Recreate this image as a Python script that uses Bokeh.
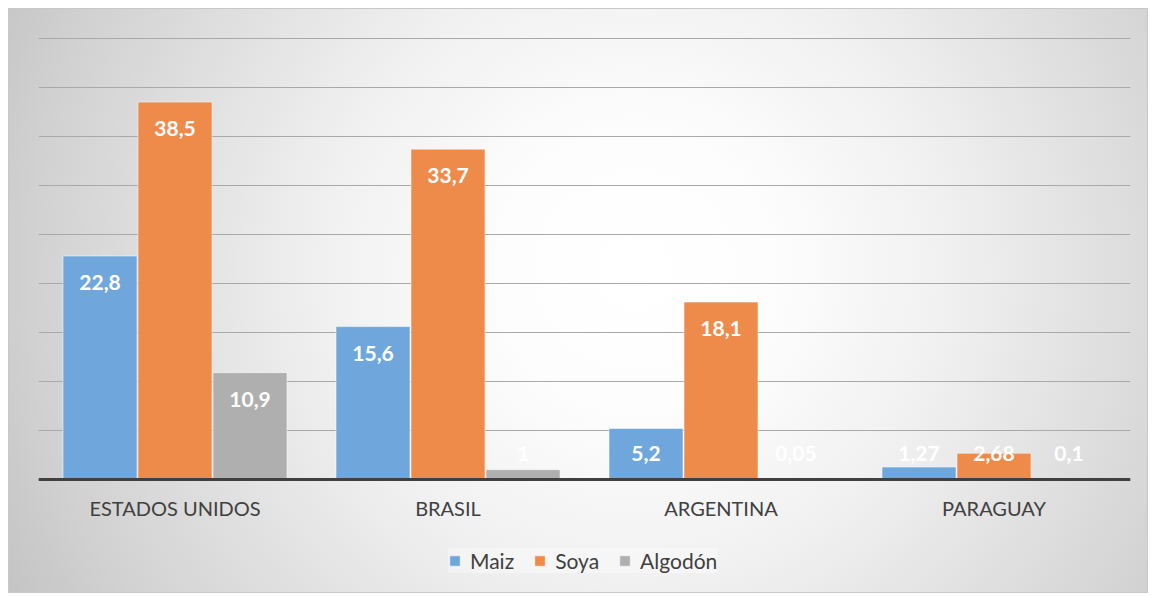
from bokeh.plotting import figure
from bokeh.models import ColumnDataSource, FactorRange, Range1d, Legend, LegendItem, FixedTicker
from bokeh.transform import dodge
from bokeh.core.properties import value
from bokeh.embed import file_html
from bokeh.resources import INLINE

categories = ["ESTADOS UNIDOS", "BRASIL", "ARGENTINA", "PARAGUAY"]
maiz = [22.8, 15.6, 5.2, 1.27]
soya = [38.5, 33.7, 18.1, 2.68]
algodon = [10.9, 1.0, 0.05, 0.1]
series_names = ["Maiz", "Soya", "Algodón"]
series_keys = ["maiz", "soya", "algodon"]
colors = ["#6FA7DC", "#EE8B4B", "#AFAFAF"]
y_ticks = [0, 5, 10, 15, 20, 25, 30, 35, 40, 45]

FONT = "Lato"

def fmt(v):
    return ("%g" % v).replace(".", ",")

data = dict(cat=categories, maiz=maiz, soya=soya, algodon=algodon)
for k in series_keys:
    data[k + "_lab"] = [fmt(v) for v in data[k]]
    data[k + "_ly"] = [max(v - 2.7, 2.65) for v in data[k]]
src = ColumnDataSource(data)

p = figure(
    x_range=FactorRange(*categories), y_range=Range1d(-11.73, 45.5),
    width=1140, height=585, output_backend="svg", toolbar_location=None,
    min_border_left=29, min_border_right=19, min_border_top=24, min_border_bottom=0,
    background_fill_alpha=0, border_fill_alpha=0, outline_line_color=None,
    styles={
        "background": "radial-gradient(circle farthest-corner at 55% 45%, #ffffff 0%, #fdfdfd 20%, #f0f0f0 45%, #d2d2d2 85%, #c4c4c4 100%)",
        "border": "1px solid #c8c8c8",
        "margin": "8px",
    },
)

offsets = [-0.2747, 0.0, 0.2747]
items = []
for key, name, col, off in zip(series_keys, series_names, colors, offsets):
    r = p.vbar(x=dodge("cat", off, range=p.x_range), top=key, width=0.271, source=src,
               fill_color=col, line_color="white", line_alpha=0.5, line_width=1)
    p.text(x=dodge("cat", off, range=p.x_range), y=key + "_ly", text=key + "_lab", source=src,
           text_color="white", text_font=value(FONT), text_font_style="bold",
           text_font_size="21px", text_align="center", text_baseline="middle")
    items.append(LegendItem(label=name, renderers=[r]))

p.yaxis.visible = False
p.ygrid.ticker = FixedTicker(ticks=y_ticks)
p.ygrid.grid_line_color = "#a9a9a9"
p.ygrid.grid_line_width = 1
p.xgrid.grid_line_color = None

ax = p.xaxis[0]
ax.fixed_location = 0
ax.axis_line_color = "#404040"
ax.axis_line_width = 3
ax.major_tick_line_color = None
ax.minor_tick_line_color = None
ax.major_label_text_font = FONT
ax.major_label_text_font_size = "20px"
ax.major_label_text_color = "#404040"
ax.major_label_standoff = 10

legend = Legend(items=items, orientation="horizontal", location=(410, 21),
                label_text_font=FONT, label_text_font_size="21px", label_text_color="#404040",
                glyph_width=13, glyph_height=13, label_standoff=9, spacing=19, padding=11,
                margin=0, border_line_color=None,
                background_fill_color="white", background_fill_alpha=0.35)
p.add_layout(legend, "center")

open("out.html", "w").write(file_html(p, INLINE))
